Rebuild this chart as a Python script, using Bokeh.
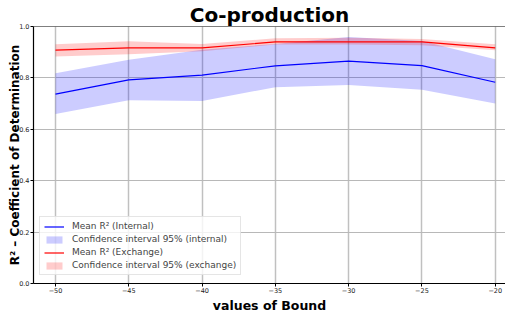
from bokeh.plotting import figure
from bokeh.models import FixedTicker, PrintfTickFormatter, Span, Legend, LegendItem, Range1d, Title
from bokeh.embed import file_html
from bokeh.resources import INLINE

bounds = [-50, -45, -40, -35, -30, -25, -20]
mean_internal = [0.737, 0.792, 0.811, 0.847, 0.865, 0.848, 0.783]
ci_internal_low = [0.660, 0.713, 0.710, 0.764, 0.772, 0.754, 0.700]
ci_internal_high = [0.818, 0.871, 0.910, 0.932, 0.959, 0.944, 0.873]
mean_exchange = [0.908, 0.917, 0.917, 0.940, 0.940, 0.940, 0.917]
ci_exchange_low = [0.883, 0.892, 0.904, 0.930, 0.930, 0.927, 0.908]
ci_exchange_high = [0.931, 0.943, 0.932, 0.954, 0.956, 0.951, 0.931]
y_ticks = [0.0, 0.2, 0.4, 0.6, 0.8, 1.0]
x_tick_labels = {b: "\u2212" + str(abs(b)) for b in bounds}

FONT = "DejaVu Sans"

p = figure(width=505, height=312, output_backend="svg", toolbar_location=None,
           x_range=Range1d(-51.5, -19.3), y_range=Range1d(0, 1), min_border=0,
           min_border_left=33, min_border_right=0, min_border_top=0, min_border_bottom=0)

p.title.text = "Co-production"
p.title.align = "center"
p.title.text_font = FONT
p.title.text_font_size = "20px"
p.title.text_font_style = "bold"
p.title.text_color = "black"
p.title.standoff = 0

r_band_i = p.varea(x=bounds, y1=ci_internal_low, y2=ci_internal_high, fill_color="blue", fill_alpha=0.2)
r_band_e = p.varea(x=bounds, y1=ci_exchange_low, y2=ci_exchange_high, fill_color="red", fill_alpha=0.2)
r_mean_i = p.line(bounds, mean_internal, line_color="blue", line_width=1.2)
r_mean_e = p.line(bounds, mean_exchange, line_color="red", line_width=1.2)

p.outline_line_color = None
p.add_layout(Span(location=1.0, dimension="width", line_color="black", line_width=1.2))

for ax in (p.xaxis[0], p.yaxis[0]):
    ax.axis_line_color = "black"
    ax.axis_line_width = 1.2
    ax.major_tick_out = 3
    ax.major_tick_in = 0
    ax.minor_tick_out = 0
    ax.minor_tick_in = 0
    ax.major_label_text_font = FONT
    ax.major_label_text_font_size = "6.5px"
    ax.major_label_text_color = "#222222"
    ax.major_label_standoff = 1

p.xaxis.ticker = FixedTicker(ticks=bounds)
p.xaxis.major_label_overrides = x_tick_labels
p.yaxis.ticker = FixedTicker(ticks=y_ticks)
p.yaxis.formatter = PrintfTickFormatter(format="%.1f")
p.yaxis.axis_label = "R\u00b2 \u2013 Coefficient of Determination"
p.yaxis.axis_label_text_font = FONT
p.yaxis.axis_label_text_font_size = "12px"
p.yaxis.axis_label_text_font_style = "bold"
p.yaxis.axis_label_text_color = "black"
p.yaxis.axis_label_standoff = -6

xt = Title(text="values of Bound", align="center", text_font=FONT, text_font_size="12.5px",
           text_font_style="bold", text_color="black", standoff=0, offset=0,
           vertical_align="bottom")
p.add_layout(xt, "below")

p.xgrid.grid_line_color = "#c0c0c0"
p.xgrid.grid_line_width = 1.5
p.ygrid.grid_line_color = "#b8b8b8"
p.ygrid.grid_line_width = 1.2

legend = Legend(items=[
    LegendItem(label="Mean R\u00b2 (Internal)", renderers=[r_mean_i]),
    LegendItem(label="Confidence interval 95% (internal)", renderers=[r_band_i]),
    LegendItem(label="Mean R\u00b2 (Exchange)", renderers=[r_mean_e]),
    LegendItem(label="Confidence interval 95% (exchange)", renderers=[r_band_e]),
], location=(6, 8))
legend.label_text_font = FONT
legend.label_text_font_size = "9px"
legend.label_height = 10
legend.glyph_height = 9
legend.glyph_width = 20
legend.spacing = 3
legend.padding = 4
legend.margin = 0
legend.label_standoff = 8
legend.border_line_color = "#cccccc"
legend.background_fill_alpha = 0.8
p.add_layout(legend, "center")

open("out.html", "w").write(file_html(p, INLINE))
